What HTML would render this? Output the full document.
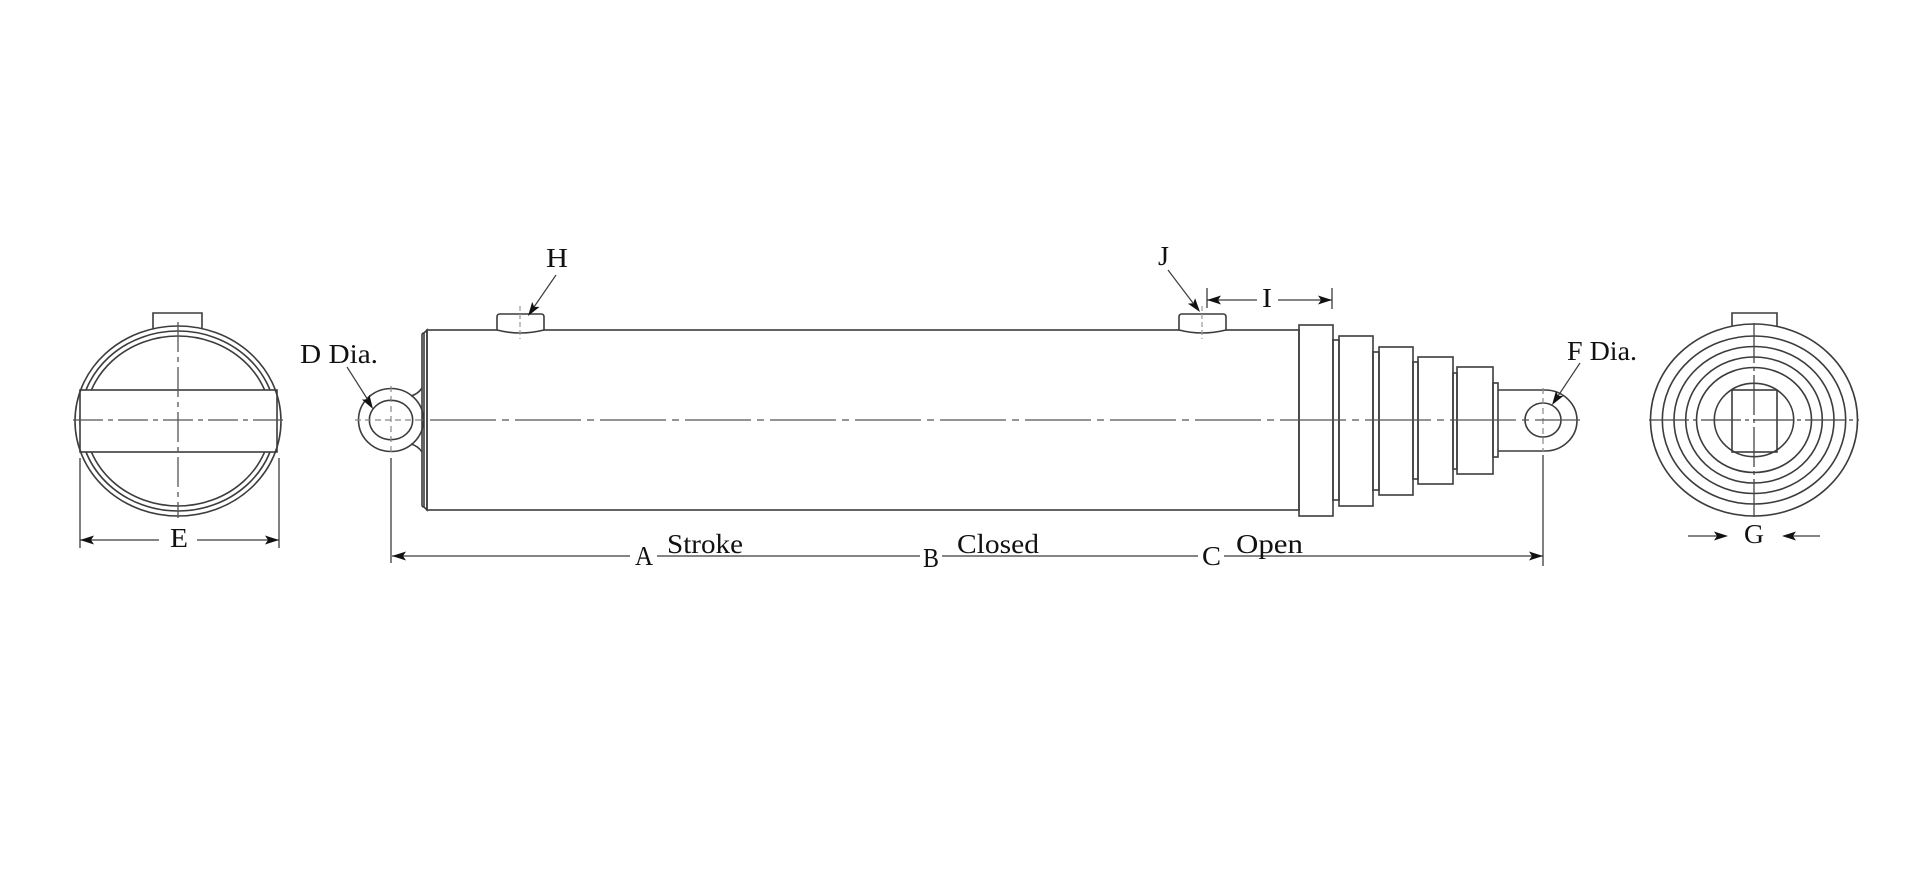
<!DOCTYPE html>
<html><head><meta charset="utf-8"><style>
html,body{margin:0;padding:0;background:#fff;}
svg{display:block;}
text{font-family:"Liberation Serif",serif;font-size:27px;fill:#111;}
</style></head><body>
<svg width="1920" height="873" viewBox="0 0 1920 873" xmlns="http://www.w3.org/2000/svg">
<rect width="1920" height="873" fill="#fff"/>
<g fill="none" stroke="#3c3c3c" stroke-width="1.6">

<!-- LEFT END VIEW -->
<path d="M153,329 V313 H202 V329" fill="#fff"/>
<ellipse cx="178" cy="421" rx="98" ry="90"/>
<ellipse cx="178" cy="421" rx="93" ry="85"/>
<rect x="80" y="390" width="197" height="62" fill="#fff"/>
<ellipse cx="178" cy="421" rx="103" ry="95"/>
<g stroke="#555" stroke-width="1.3" stroke-dasharray="30 5 5 5">
<line x1="73" y1="420" x2="284" y2="420"/>
<line x1="178" y1="322" x2="178" y2="518"/>
</g>
<line x1="80" y1="458" x2="80" y2="548" stroke-width="1.3"/>
<line x1="279" y1="458" x2="279" y2="548" stroke-width="1.3"/>
<line x1="80" y1="540" x2="159" y2="540" stroke-width="1.3"/>
<line x1="197" y1="540" x2="279" y2="540" stroke-width="1.3"/>

<!-- LEFT EYE -->
<ellipse cx="391" cy="420" rx="32.5" ry="31.5"/>
<ellipse cx="391" cy="420" rx="21.7" ry="19.7"/>
<path d="M411,396 Q418,394 422,388"/>
<path d="M411,444 Q418,446 422,452"/>
<g stroke="#888" stroke-width="1.2" stroke-dasharray="6 4">
<line x1="355" y1="420" x2="422" y2="420"/>
<line x1="391" y1="386" x2="391" y2="453"/>
</g>
<line x1="391" y1="458" x2="391" y2="563" stroke-width="1.3"/>
<line x1="347" y1="367" x2="368" y2="400" stroke-width="1.2"/>

<!-- CYLINDER BODY -->
<path d="M424,333 L427,330 L427,510 L424,507 Z M422,335 V505" />
<path d="M422,335 Q422,333 424,333 M422,505 Q422,507 424,507"/>
<rect x="427" y="330" width="872" height="180"/>
<!-- H port -->
<path d="M497,330 V317 Q497,314 500,314 H541 Q544,314 544,317 V330 Q520,336 497,330 Z" fill="#fff"/>
<line x1="520" y1="306" x2="520" y2="339" stroke="#999" stroke-width="1.2" stroke-dasharray="5 3"/>
<line x1="556" y1="275" x2="534" y2="307" stroke-width="1.2"/>
<!-- J port -->
<path d="M1179,330 V317 Q1179,314 1182,314 H1223 Q1226,314 1226,317 V330 Q1202,336 1179,330 Z" fill="#fff"/>
<line x1="1202" y1="306" x2="1202" y2="339" stroke="#999" stroke-width="1.2" stroke-dasharray="5 3"/>
<line x1="1168" y1="270" x2="1193" y2="303" stroke-width="1.2"/>
<!-- I dimension -->
<line x1="1207" y1="288" x2="1207" y2="308" stroke-width="1.3"/>
<line x1="1332" y1="288" x2="1332" y2="309" stroke-width="1.3"/>
<line x1="1207" y1="300" x2="1257" y2="300" stroke-width="1.3"/>
<line x1="1278" y1="300" x2="1332" y2="300" stroke-width="1.3"/>

<!-- GLAND & STAGES -->
<rect x="1299" y="325" width="34" height="191"/>
<rect x="1333" y="340" width="6" height="160"/>
<rect x="1339" y="336" width="34" height="170"/>
<rect x="1373" y="352" width="6" height="138"/>
<rect x="1379" y="347" width="34" height="148"/>
<rect x="1413" y="362" width="5" height="117"/>
<rect x="1418" y="357" width="35" height="127"/>
<rect x="1453" y="373" width="4" height="96"/>
<rect x="1457" y="367" width="36" height="107"/>
<rect x="1493" y="383" width="5" height="74"/>
<!-- rod & right eye -->
<path d="M1498,390 H1545 A32,30.5 0 0 1 1545,451 H1498"/>
<ellipse cx="1543" cy="420" rx="18" ry="17"/>
<g stroke="#888" stroke-width="1.2" stroke-dasharray="6 4">
<line x1="1543" y1="388" x2="1543" y2="452"/>
</g>
<line x1="1543" y1="455" x2="1543" y2="566" stroke-width="1.3"/>
<line x1="1580" y1="363" x2="1558" y2="396" stroke-width="1.2"/>

<!-- main centre line -->
<line x1="422" y1="420" x2="1580" y2="420" stroke="#555" stroke-width="1.3" stroke-dasharray="66 6 7 6" stroke-dashoffset="-8"/>

<!-- overall dimension line -->
<line x1="392" y1="556" x2="630" y2="556" stroke-width="1.3"/>
<line x1="657" y1="556" x2="920" y2="556" stroke-width="1.3"/>
<line x1="942" y1="556" x2="1198" y2="556" stroke-width="1.3"/>
<line x1="1224" y1="556" x2="1543" y2="556" stroke-width="1.3"/>

<!-- RIGHT END VIEW -->
<path d="M1732,326 V313 H1777 V326" fill="#fff"/>
<ellipse cx="1754" cy="420" rx="103.5" ry="96"/>
<ellipse cx="1754" cy="420" rx="91.7" ry="84"/>
<ellipse cx="1754" cy="420" rx="80" ry="73.5"/>
<ellipse cx="1754" cy="420" rx="68.3" ry="63"/>
<ellipse cx="1754" cy="420" rx="57.5" ry="52.5"/>
<ellipse cx="1754" cy="420" rx="39.7" ry="36.7"/>
<rect x="1732" y="390" width="45" height="62"/>
<g stroke="#444" stroke-width="1.3" stroke-dasharray="40 4 4 4">
<line x1="1649" y1="420" x2="1859" y2="420"/>
<line x1="1754" y1="323" x2="1754" y2="517"/>
</g>
<line x1="1688" y1="536" x2="1718" y2="536" stroke-width="1.3"/>
<line x1="1792" y1="536" x2="1820" y2="536" stroke-width="1.3"/>
</g>

<!-- ARROWHEADS -->
<g fill="#111" stroke="none">
<polygon points="80,540 94,535.5 91,540 94,544.5"/>
<polygon points="279,540 265,535.5 268,540 265,544.5"/>
<polygon points="373,409 361.8,399.5 367.2,399.65 369.4,394.7"/>
<polygon points="528,316 532.2,301.9 534.2,306.9 539.6,306.9"/>
<polygon points="1200,312 1187.9,303.6 1193.3,303.25 1195.1,298.2"/>
<polygon points="1207,300 1221,295.5 1218,300 1221,304.5"/>
<polygon points="1332,300 1318,295.5 1321,300 1318,304.5"/>
<polygon points="392,556 406,551.5 403,556 406,560.5"/>
<polygon points="1543,556 1529,551.5 1532,556 1529,560.5"/>
<polygon points="1552,405 1556,390.85 1558.1,395.85 1563.5,395.85"/>
<polygon points="1728,536 1714,531.5 1717,536 1714,540.5"/>
<polygon points="1782,536 1796,531.5 1793,536 1796,540.5"/>
</g>

<!-- TEXT -->
<text x="170" y="547" textLength="18" lengthAdjust="spacingAndGlyphs">E</text>
<text x="300" y="363" textLength="78" lengthAdjust="spacingAndGlyphs">D Dia.</text>
<text x="546" y="267" textLength="22" lengthAdjust="spacingAndGlyphs">H</text>
<text x="1158" y="265" textLength="11" lengthAdjust="spacingAndGlyphs">J</text>
<text x="1262" y="307" textLength="10" lengthAdjust="spacingAndGlyphs">I</text>
<text x="1567" y="360" textLength="70" lengthAdjust="spacingAndGlyphs">F Dia.</text>
<text x="1744" y="543" textLength="20" lengthAdjust="spacingAndGlyphs">G</text>
<text x="635" y="565" textLength="18" lengthAdjust="spacingAndGlyphs">A</text>
<text x="667" y="553" textLength="76" lengthAdjust="spacingAndGlyphs">Stroke</text>
<text x="923" y="567" textLength="16" lengthAdjust="spacingAndGlyphs">B</text>
<text x="957" y="553" textLength="82" lengthAdjust="spacingAndGlyphs">Closed</text>
<text x="1202" y="565" textLength="19" lengthAdjust="spacingAndGlyphs">C</text>
<text x="1236" y="553" textLength="67" lengthAdjust="spacingAndGlyphs">Open</text>
</svg>
</body></html>
